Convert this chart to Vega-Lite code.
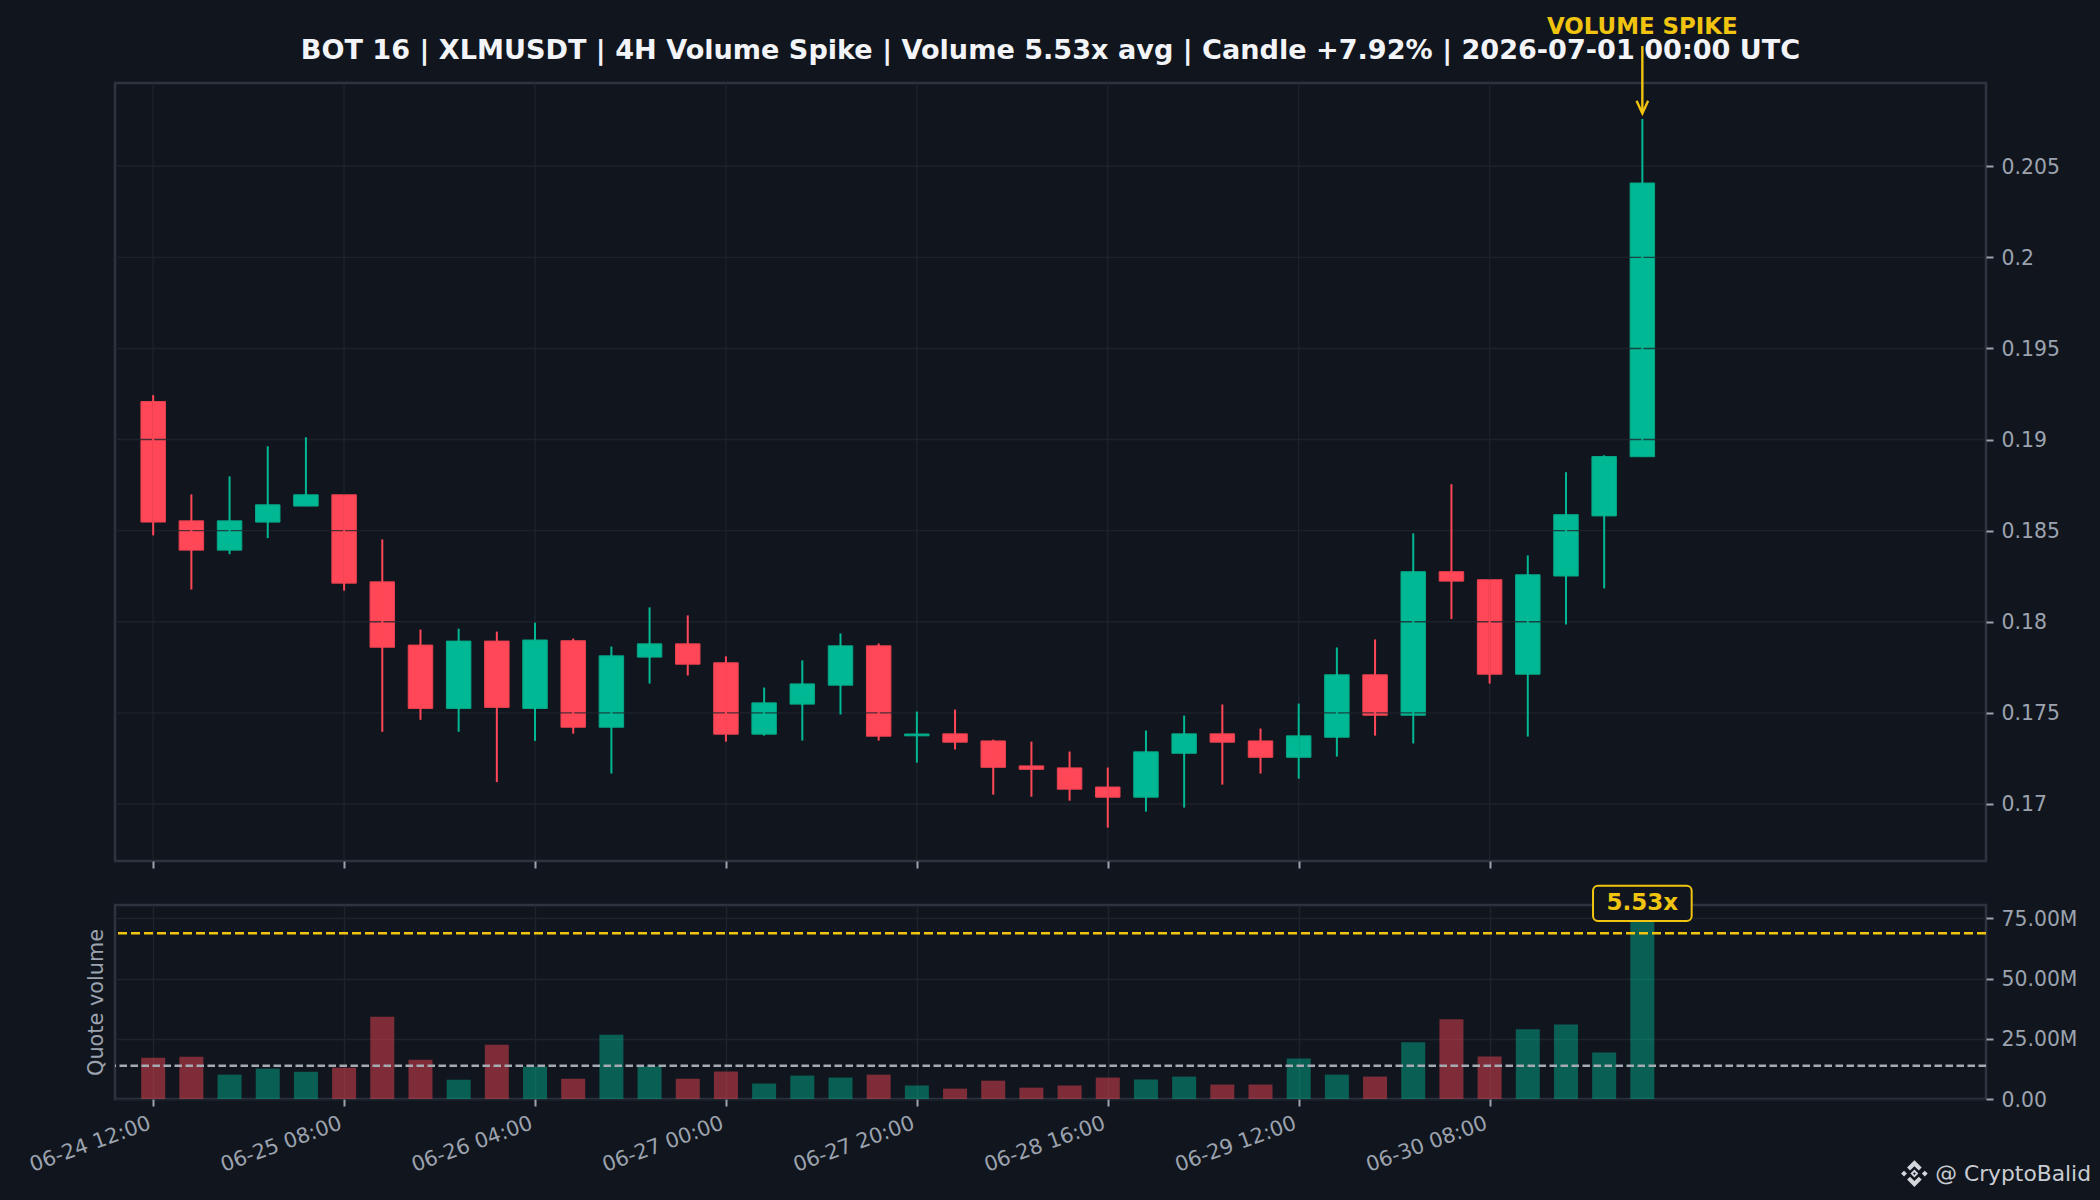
{
"$schema":"https://vega.github.io/schema/vega-lite/v6.json",
"autosize":{"type":"none"},
"padding":{"left":115,"top":83,"right":1985,"bottom":1117},
"background":"#11161e",
"title":{"text":"BOT 16 | XLMUSDT | 4H Volume Spike | Volume 5.53x avg | Candle +7.92% | 2026-07-01 00:00 UTC","font":"DejaVu Sans","fontWeight":"bold","fontSize":27.1,"color":"#f2f4f7","anchor":"middle","frame":"group","offset":-50},
"config":{"view":{"stroke":"#2d3440","strokeWidth":2.5},"font":"DejaVu Sans"},
"datasets":{
"candles":[
{"t":"2026-06-24T12:00:00Z","dir":"down","open":0.19209,"high":0.19244,"low":0.18474,"close":0.18547,"volume":17100000},
{"t":"2026-06-24T16:00:00Z","dir":"down","open":0.18554,"high":0.18699,"low":0.18177,"close":0.18393,"volume":17500000},
{"t":"2026-06-24T20:00:00Z","dir":"up","open":0.18393,"high":0.18798,"low":0.18371,"close":0.18554,"volume":10100000},
{"t":"2026-06-25T00:00:00Z","dir":"up","open":0.18547,"high":0.18963,"low":0.18459,"close":0.18642,"volume":12600000},
{"t":"2026-06-25T04:00:00Z","dir":"up","open":0.18635,"high":0.19013,"low":0.18635,"close":0.18697,"volume":11300000},
{"t":"2026-06-25T08:00:00Z","dir":"down","open":0.18697,"high":0.18697,"low":0.18171,"close":0.18212,"volume":13000000},
{"t":"2026-06-25T12:00:00Z","dir":"down","open":0.18219,"high":0.18452,"low":0.17396,"close":0.1786,"volume":34100000},
{"t":"2026-06-25T16:00:00Z","dir":"down","open":0.17872,"high":0.17957,"low":0.17462,"close":0.17524,"volume":16300000},
{"t":"2026-06-25T20:00:00Z","dir":"up","open":0.17524,"high":0.17962,"low":0.17396,"close":0.17894,"volume":8000000},
{"t":"2026-06-26T00:00:00Z","dir":"down","open":0.17894,"high":0.17946,"low":0.1712,"close":0.1753,"volume":22500000},
{"t":"2026-06-26T04:00:00Z","dir":"up","open":0.17524,"high":0.17995,"low":0.17346,"close":0.179,"volume":13400000},
{"t":"2026-06-26T08:00:00Z","dir":"down","open":0.17896,"high":0.17908,"low":0.17386,"close":0.17421,"volume":8400000},
{"t":"2026-06-26T12:00:00Z","dir":"up","open":0.17421,"high":0.17864,"low":0.17167,"close":0.17813,"volume":26700000},
{"t":"2026-06-26T16:00:00Z","dir":"up","open":0.17806,"high":0.18079,"low":0.17661,"close":0.17879,"volume":13500000},
{"t":"2026-06-26T20:00:00Z","dir":"down","open":0.17879,"high":0.18035,"low":0.17705,"close":0.17767,"volume":8400000},
{"t":"2026-06-27T00:00:00Z","dir":"down","open":0.17775,"high":0.1781,"low":0.17342,"close":0.17383,"volume":11400000},
{"t":"2026-06-27T04:00:00Z","dir":"up","open":0.17383,"high":0.17639,"low":0.17375,"close":0.17555,"volume":6400000},
{"t":"2026-06-27T08:00:00Z","dir":"up","open":0.17548,"high":0.17788,"low":0.17348,"close":0.17659,"volume":9700000},
{"t":"2026-06-27T12:00:00Z","dir":"up","open":0.17652,"high":0.17936,"low":0.17491,"close":0.17868,"volume":8900000},
{"t":"2026-06-27T16:00:00Z","dir":"down","open":0.17868,"high":0.17881,"low":0.17348,"close":0.17372,"volume":10100000},
{"t":"2026-06-27T20:00:00Z","dir":"up","open":0.17374,"high":0.17507,"low":0.17227,"close":0.17384,"volume":5600000},
{"t":"2026-06-28T00:00:00Z","dir":"down","open":0.17385,"high":0.17518,"low":0.17299,"close":0.17339,"volume":4300000},
{"t":"2026-06-28T04:00:00Z","dir":"down","open":0.17346,"high":0.17353,"low":0.17051,"close":0.17201,"volume":7600000},
{"t":"2026-06-28T08:00:00Z","dir":"down","open":0.17209,"high":0.17342,"low":0.1704,"close":0.1719,"volume":4700000},
{"t":"2026-06-28T12:00:00Z","dir":"down","open":0.17198,"high":0.17288,"low":0.17018,"close":0.17081,"volume":5600000},
{"t":"2026-06-28T16:00:00Z","dir":"down","open":0.17093,"high":0.172,"low":0.1687,"close":0.17037,"volume":8900000},
{"t":"2026-06-28T20:00:00Z","dir":"up","open":0.17037,"high":0.17403,"low":0.16958,"close":0.17286,"volume":8100000},
{"t":"2026-06-29T00:00:00Z","dir":"up","open":0.17278,"high":0.17485,"low":0.1698,"close":0.17385,"volume":9300000},
{"t":"2026-06-29T04:00:00Z","dir":"down","open":0.17385,"high":0.17546,"low":0.17106,"close":0.17339,"volume":6000000},
{"t":"2026-06-29T08:00:00Z","dir":"down","open":0.17346,"high":0.17414,"low":0.17167,"close":0.17256,"volume":6000000},
{"t":"2026-06-29T12:00:00Z","dir":"up","open":0.17256,"high":0.17551,"low":0.17139,"close":0.17374,"volume":16800000},
{"t":"2026-06-29T16:00:00Z","dir":"up","open":0.17366,"high":0.17859,"low":0.1726,"close":0.17709,"volume":10100000},
{"t":"2026-06-29T20:00:00Z","dir":"down","open":0.17709,"high":0.17903,"low":0.17375,"close":0.17487,"volume":9300000},
{"t":"2026-06-30T00:00:00Z","dir":"up","open":0.17487,"high":0.18485,"low":0.17332,"close":0.18275,"volume":23500000},
{"t":"2026-06-30T04:00:00Z","dir":"down","open":0.18275,"high":0.18755,"low":0.18015,"close":0.18223,"volume":33100000},
{"t":"2026-06-30T08:00:00Z","dir":"down","open":0.18231,"high":0.18231,"low":0.17661,"close":0.17712,"volume":17600000},
{"t":"2026-06-30T12:00:00Z","dir":"up","open":0.17712,"high":0.18364,"low":0.1737,"close":0.18258,"volume":28900000},
{"t":"2026-06-30T16:00:00Z","dir":"up","open":0.18251,"high":0.18821,"low":0.17985,"close":0.18588,"volume":30900000},
{"t":"2026-06-30T20:00:00Z","dir":"up","open":0.18581,"high":0.18914,"low":0.18183,"close":0.18907,"volume":19300000},
{"t":"2026-07-01T00:00:00Z","dir":"up","open":0.18906,"high":0.20759,"low":0.18906,"close":0.20408,"volume":76300000}
],
"priceLevels":[{"level":0.17},{"level":0.175},{"level":0.18},{"level":0.185},{"level":0.19},{"level":0.195},{"level":0.2},{"level":0.205}],
"timeTicks":[{"t":"2026-06-24T12:00:00Z"},{"t":"2026-06-25T08:00:00Z"},{"t":"2026-06-26T04:00:00Z"},{"t":"2026-06-27T00:00:00Z"},{"t":"2026-06-27T20:00:00Z"},{"t":"2026-06-28T16:00:00Z"},{"t":"2026-06-29T12:00:00Z"},{"t":"2026-06-30T08:00:00Z"}],
"spike":[{"t":"2026-07-01T00:00:00Z","arrowFrom":0.2116,"arrowTo":0.2079,"labelAt":0.21262,"label":"VOLUME SPIKE"}],
"badge":[{"t":"2026-06-30T18:50:00Z","t2":"2026-07-01T05:10:00Z","tc":"2026-07-01T00:00:00Z","v0":73900000,"v1":88500000,"vc":81200000,"label":"5.53x"}],
"avgLines":[{"name":"average","v":13800000},{"name":"threshold","v":68800000}],
"mark":[{"t":"2026-07-02T04:30:00Z","tl":"2026-07-02T23:00:00Z","v":-30950000,"label":"@ CryptoBalid"}]
},
"vconcat":[
{"width":1871,"height":778,
"encoding":{"x":{"field":"t","type":"temporal","title":null,"scale":{"type":"utc","padding":0,"domain":["2026-06-24T08:00:00Z","2026-07-02T12:00:00Z"]},
"axis":{"values":["2026-06-24T12:00:00Z","2026-06-25T08:00:00Z","2026-06-26T04:00:00Z","2026-06-27T00:00:00Z","2026-06-27T20:00:00Z","2026-06-28T16:00:00Z","2026-06-29T12:00:00Z","2026-06-30T08:00:00Z"],"labels":false,"grid":false,"domain":false,"tickColor":"#9ca3af","tickWidth":2,"tickSize":7}}},
"layer":[
{"data":{"name":"candles"},"mark":{"type":"bar","size":24.5,"strokeWidth":1},
"encoding":{"y":{"field":"open","type":"quantitative","title":null,"scale":{"domain":[0.16687,0.20957],"zero":false,"nice":false},
"axis":{"orient":"right","values":[0.17,0.175,0.18,0.185,0.19,0.195,0.2,0.205],"format":".3~f","grid":false,"domain":false,"tickColor":"#9ca3af","tickWidth":2,"tickSize":7,"labelColor":"#9ca3af","labelFontSize":20.4,"labelFont":"DejaVu Sans","labelPadding":8,"labelOffset":1}},
"y2":{"field":"close"},
"fill":{"field":"dir","type":"nominal","legend":null,"scale":{"domain":["up","down"],"range":["#00b894","#ff4757"]}},
"stroke":{"field":"dir","type":"nominal","legend":null,"scale":{"domain":["up","down"],"range":["#05a585","#e6414f"]}}}},
{"data":{"name":"priceLevels"},"mark":{"type":"rule","color":"#20252d","opacity":0.8,"strokeWidth":1.4},"encoding":{"x":null,"y":{"field":"level","type":"quantitative"}}},
{"data":{"name":"timeTicks"},"mark":{"type":"rule","color":"#20252d","opacity":0.8,"strokeWidth":1.4},"encoding":{}},
{"data":{"name":"candles"},"mark":{"type":"rule","strokeWidth":2},
"encoding":{"y":{"field":"low","type":"quantitative"},"y2":{"field":"high"},"color":{"field":"dir","type":"nominal","legend":null,"scale":{"domain":["up","down"],"range":["#00b894","#ff4757"]}}}},
{"data":{"name":"spike"},"mark":{"type":"rule","color":"#f1c40f","strokeWidth":2.4},"encoding":{"y":{"field":"arrowFrom","type":"quantitative"},"y2":{"field":"arrowTo"}}},
{"data":{"name":"spike"},"mark":{"type":"point","shape":"M-1,-2.2L0,0L1,-2.2","filled":false,"stroke":"#f1c40f","strokeWidth":2.4,"size":134,"opacity":1},"encoding":{"y":{"field":"arrowTo","type":"quantitative"}}},
{"data":{"name":"spike"},"mark":{"type":"text","color":"#f1c40f","font":"DejaVu Sans","fontWeight":"bold","fontSize":22.9,"align":"center","baseline":"middle"},"encoding":{"y":{"field":"labelAt","type":"quantitative"},"text":{"field":"label"}}}
]},
{"width":1871,"height":194,
"encoding":{"x":{"field":"t","type":"temporal","title":null,"scale":{"type":"utc","padding":0,"domain":["2026-06-24T08:00:00Z","2026-07-02T12:00:00Z"]},
"axis":{"values":["2026-06-24T12:00:00Z","2026-06-25T08:00:00Z","2026-06-26T04:00:00Z","2026-06-27T00:00:00Z","2026-06-27T20:00:00Z","2026-06-28T16:00:00Z","2026-06-29T12:00:00Z","2026-06-30T08:00:00Z"],"format":"%m-%d %H:%M","grid":true,"gridColor":"#1e242c","gridWidth":1.4,"domain":false,"tickColor":"#9ca3af","tickWidth":2,"tickSize":7,"labelColor":"#9ca3af","labelFontSize":20.8,"labelFont":"DejaVu Sans","labelAngle":-20,"labelAlign":"right","labelBaseline":"top","labelPadding":7,"labelOffset":-7}}},
"resolve":{"axis":{"y":"independent"},"scale":{"color":"independent"}},
"layer":[
{"data":{"name":"candles"},"mark":{"type":"bar","size":24,"opacity":0.46},
"encoding":{"y":{"field":"volume","type":"quantitative","scale":{"domain":[0,80500000],"nice":false},
"axis":{"orient":"left","title":"Quote volume","titleColor":"#9ca3af","titleFontSize":20.8,"titleFontWeight":"normal","titleFont":"DejaVu Sans","titlePadding":9,"labels":false,"ticks":false,"grid":false,"domain":false}},
"color":{"field":"dir","type":"nominal","legend":null,"scale":{"domain":["up","down"],"range":["#00b894","#ff4757"]}}}},
{"data":{"name":"avgLines"},"mark":{"type":"rule","strokeWidth":2.4},
"encoding":{"x":null,"y":{"field":"v","type":"quantitative","title":null,"scale":{"domain":[0,80500000],"nice":false},
"axis":{"orient":"right","values":[0,25000000,50000000,75000000],"labelExpr":"datum.value==0?'0.00':format(datum.value/1000000,'.2f')+'M'","grid":true,"gridColor":"#1e242c","gridWidth":1.4,"domain":false,"tickColor":"#9ca3af","tickWidth":2,"tickSize":7,"labelColor":"#9ca3af","labelFontSize":20.4,"labelFont":"DejaVu Sans","labelPadding":8,"labelOffset":1}},
"color":{"field":"name","type":"nominal","legend":null,"scale":{"domain":["average","threshold"],"range":["#a6abb3","#f1c40f"]}},
"strokeDash":{"field":"name","type":"nominal","legend":null,"scale":{"domain":["average","threshold"],"range":[[7.5,3.5],[9,4]]}}}},
{"data":{"name":"badge"},"mark":{"type":"rect","fill":"#11161e","stroke":"#f1c40f","strokeWidth":2,"cornerRadius":5},
"encoding":{"x":{"field":"t","type":"temporal"},"x2":{"field":"t2"},"y":{"field":"v0","type":"quantitative","axis":null},"y2":{"field":"v1"}}},
{"data":{"name":"badge"},"mark":{"type":"text","color":"#f1c40f","font":"DejaVu Sans","fontWeight":"bold","fontSize":23,"align":"center","baseline":"middle"},
"encoding":{"x":{"field":"tc","type":"temporal"},"y":{"field":"vc","type":"quantitative","axis":null},"text":{"field":"label"}}},
{"data":{"name":"mark"},"mark":{"type":"point","shape":"M0,-1L0.55,-0.45L0.33,-0.23L0,-0.56L-0.33,-0.23L-0.55,-0.45ZM0,1L-0.55,0.45L-0.33,0.23L0,0.56L0.33,0.23L0.55,0.45ZM-1,0L-0.78,-0.22L-0.56,0L-0.78,0.22ZM1,0L0.78,0.22L0.56,0L0.78,-0.22ZM0,-0.3L0.3,0L0,0.3L-0.3,0ZM0,-0.1L-0.1,0L0,0.1L0.1,0Z","filled":true,"fill":"#d3d6db","stroke":null,"size":708,"opacity":1},
"encoding":{"y":{"field":"v","type":"quantitative","axis":null}}},
{"data":{"name":"mark"},"mark":{"type":"text","color":"#c9ccd2","font":"DejaVu Sans","fontSize":21.8,"align":"right","baseline":"middle"},
"encoding":{"x":{"field":"tl","type":"temporal"},"y":{"field":"v","type":"quantitative","axis":null},"text":{"field":"label"}}}
]}
],
"spacing":44,
"bounds":"flush"
}
